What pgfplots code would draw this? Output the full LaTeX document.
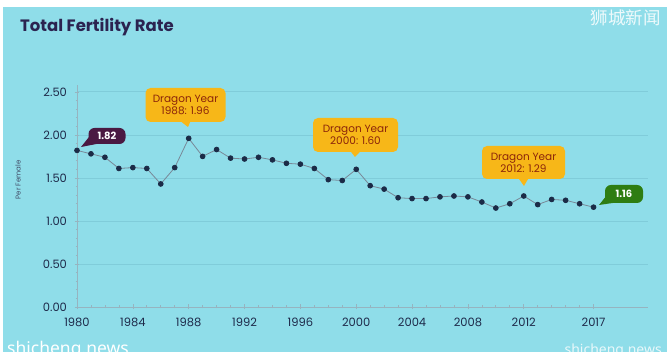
\documentclass[border=0pt]{standalone}
\usepackage{pgfplots}
\pgfplotsset{compat=1.18}
\usepackage{fontspec}
\setmainfont{Poppins}
\newfontfamily\cjk{Noto Sans CJK SC}
\newfontfamily\wm{Noto Sans}
\definecolor{bg}{RGB}{143,221,233}
\definecolor{gridc}{RGB}{128,204,218}
\definecolor{axisc}{RGB}{150,180,192}
\definecolor{titlec}{RGB}{43,35,80}
\definecolor{tickc}{RGB}{30,42,74}
\definecolor{linec}{RGB}{120,136,152}
\definecolor{markc}{RGB}{27,43,71}
\definecolor{dragon}{RGB}{247,183,24}
\definecolor{dragontext}{RGB}{139,37,10}
\definecolor{purpbox}{RGB}{74,25,66}
\definecolor{greenbox}{RGB}{46,125,18}
\begin{document}
\begin{tikzpicture}[x=1pt,y=1pt]
\useasboundingbox (0,0) rectangle (670,361);
\fill[white] (0,0) rectangle (670,361);
\fill[bg] (3,9) rectangle (667,354);
\begin{axis}[
  at={(77pt,54pt)}, anchor=south west,
  scale only axis, width=571pt, height=222pt,
  xmin=1980, xmax=2020.9, ymin=0, ymax=2.58,
  axis lines=left, axis line style={-, axisc, line width=0.7pt},
  xtick={1980,1984,1988,1992,1996,2000,2004,2008,2012,2017},
  xticklabels={1980,1984,1988,1992,1996,2000,2004,2008,2012,2017},
  minor xtick={1980,...,2017},
  ytick={0,0.5,1,1.5,2,2.5},
  minor ytick={0.1,0.2,0.3,0.4,0.6,0.7,0.8,0.9,1.1,1.2,1.3,1.4,1.6,1.7,1.8,1.9,2.1,2.2,2.3,2.4},
  yticklabel={\pgfmathprintnumber[fixed,fixed zerofill,precision=2]{\tick}},
  /pgf/number format/assume math mode=true,
  tick align=center,
  major tick length=5pt, minor tick length=3pt,
  tick style={axisc, line width=0.6pt},
  ymajorgrids, major grid style={gridc, line width=0.8pt},
  ticklabel style={font=\fontsize{11.5}{13}\selectfont, text=tickc},
  xticklabel style={yshift=-5pt},
  yticklabel style={xshift=-4pt},
  clip=false,
]
\addplot[linec, line width=0.8pt, mark=*, mark size=2.4pt, mark options={fill=markc, draw=markc}] coordinates {
(1980,1.82) (1981,1.78) (1982,1.74) (1983,1.61) (1984,1.62) (1985,1.61) (1986,1.43) (1987,1.62)
(1988,1.96) (1989,1.75) (1990,1.83) (1991,1.73) (1992,1.72) (1993,1.74) (1994,1.71) (1995,1.67)
(1996,1.66) (1997,1.61) (1998,1.48) (1999,1.47) (2000,1.60) (2001,1.41) (2002,1.37) (2003,1.27)
(2004,1.26) (2005,1.26) (2006,1.28) (2007,1.29) (2008,1.28) (2009,1.22) (2010,1.15) (2011,1.20)
(2012,1.29) (2013,1.19) (2014,1.25) (2015,1.24) (2016,1.20) (2017,1.16)};
\end{axis}
% title
\node[anchor=west, inner sep=0, text=titlec, font=\fontsize{16.5}{18}\selectfont\bfseries] at (20,334) {Total Fertility Rate};
\node[rotate=90, text=tickc!85, font=\fontsize{7}{8}\selectfont] at (18,181) {Per Female};
% dragon callouts
\tikzset{dbox/.style={fill=dragon, rounded corners=5pt, align=center, text=dragontext, font=\fontsize{10.5}{12}\selectfont, inner sep=0pt}}
\node[dbox, minimum width=80pt, minimum height=34pt] (d1) at (185.5,256) {Dragon Year\\1988: 1.96};
\fill[dragon] ([xshift=-5pt,yshift=1pt]d1.south) -- (188,234) -- ([xshift=5pt,yshift=1pt]d1.south) -- cycle;
\node[dbox, minimum width=85pt, minimum height=34pt] (d2) at (355.5,226) {Dragon Year\\2000: 1.60};
\fill[dragon] ([xshift=-5pt,yshift=1pt]d2.south) -- (355,204) -- ([xshift=5pt,yshift=1pt]d2.south) -- cycle;
\node[dbox, minimum width=83pt, minimum height=33pt] (d3) at (523.5,198.5) {Dragon Year\\2012: 1.29};
\fill[dragon] ([xshift=-5pt,yshift=1pt]d3.south) -- (524,175) -- ([xshift=5pt,yshift=1pt]d3.south) -- cycle;
% value callouts
\node[fill=purpbox, rounded corners=6pt, minimum width=37pt, minimum height=16pt, inner sep=0pt, text=white, font=\fontsize{10}{11}\selectfont\bfseries] at (107,225) {1.82};
\fill[purpbox] (89,224) -- (81,214) -- (99,217.5) -- cycle;
\node[fill=greenbox, rounded corners=6pt, minimum width=38pt, minimum height=18pt, inner sep=0pt, text=white, font=\fontsize{10}{11}\selectfont\bfseries] at (624,167) {1.16};
\fill[greenbox] (607,166) -- (599,156) -- (616,158.5) -- cycle;
% watermarks
\node[anchor=east, inner sep=0, text=white, opacity=0.85, font=\cjk\fontsize{17.5}{18}\selectfont] at (661,343) {狮城新闻};
\begin{scope}
\clip (3,9) rectangle (667,354);
\node[anchor=west, inner sep=0, text=white, font=\wm\fontsize{17.5}{18}\selectfont] at (7,11) {shicheng.news};
\node[anchor=east, inner sep=0, text=white, opacity=0.8, font=\wm\fontsize{14}{14}\selectfont] at (662,10) {shicheng.news};
\end{scope}
\end{tikzpicture}
\end{document}
